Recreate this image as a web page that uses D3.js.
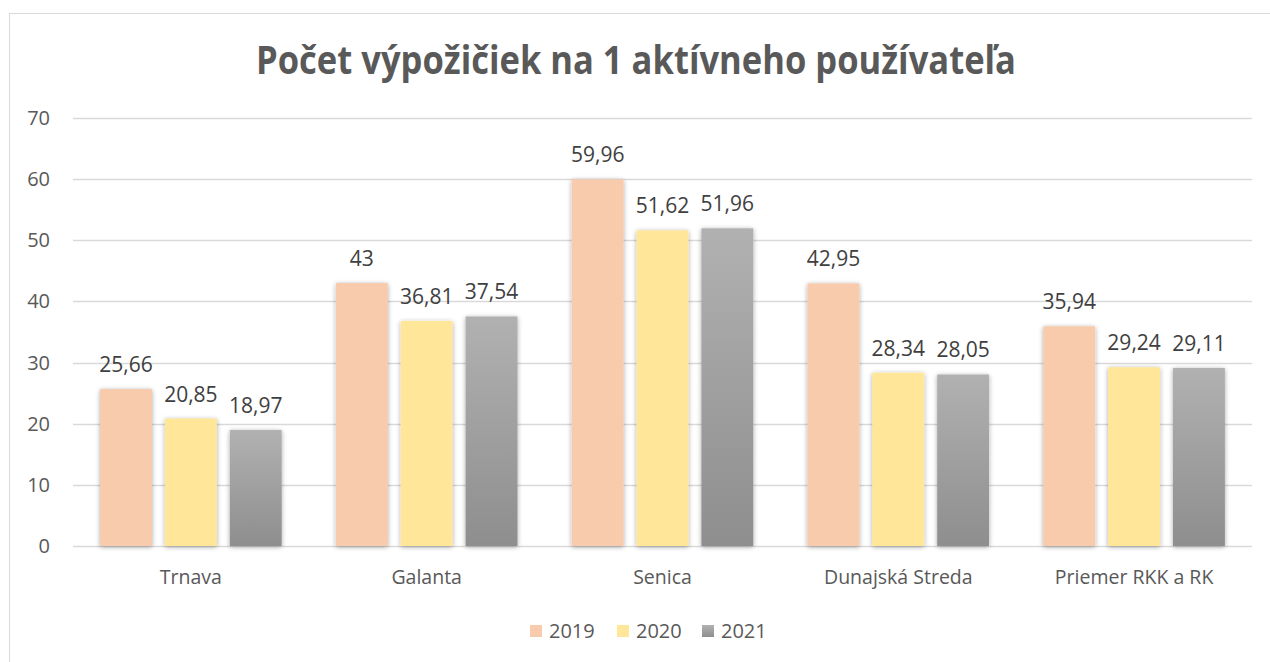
<!DOCTYPE html>
<html>
<head>
<meta charset="utf-8">
<script src="https://cdn.jsdelivr.net/npm/d3@7/dist/d3.min.js"></script>
<style>
html,body{margin:0;padding:0;background:#fff;}
svg{display:block;font-family:"Open Sans",sans-serif;}
</style>
</head>
<body>
<script>
const categories = ["Trnava", "Galanta", "Senica", "Dunajská Streda", "Priemer RKK a RK"];
const series = ["2019", "2020", "2021"];
const values2019 = [25.66, 43, 59.96, 42.95, 35.94];
const values2020 = [20.85, 36.81, 51.62, 28.34, 29.24];
const values2021 = [18.97, 37.54, 51.96, 28.05, 29.11];
const yTicks = [0, 10, 20, 30, 40, 50, 60, 70];
const title = "Počet výpožičiek na 1 aktívneho používateľa";

const allValues = [values2019, values2020, values2021];
const W = 1270, H = 662;
const plot = {left: 73, right: 1252, top: 118, bottom: 546};

const svg = d3.select("body").append("svg").attr("width", W).attr("height", H);
const defs = svg.append("defs");

const grayGrad = defs.append("linearGradient").attr("id", "gGray").attr("x1", 0).attr("y1", 0).attr("x2", 0).attr("y2", 1);
grayGrad.append("stop").attr("offset", "0%").attr("stop-color", "#b1b1b1");
grayGrad.append("stop").attr("offset", "100%").attr("stop-color", "#8e8e8e");

const f = defs.append("filter").attr("id", "shadow").attr("x", "-20%").attr("y", "-10%").attr("width", "140%").attr("height", "120%");
f.append("feGaussianBlur").attr("in", "SourceAlpha").attr("stdDeviation", 2.5).attr("result", "b");
f.append("feOffset").attr("in", "b").attr("dx", 0).attr("dy", 1).attr("result", "o");
f.append("feComponentTransfer").attr("in", "o").attr("result", "o2")
  .append("feFuncA").attr("type", "linear").attr("slope", 0.35);
const m = f.append("feMerge");
m.append("feMergeNode").attr("in", "o2");
m.append("feMergeNode").attr("in", "SourceGraphic");

const fills = ["#f8cbad", "#ffe699", "url(#gGray)"];

// outer border
svg.append("rect").attr("x", 9.5).attr("y", 13.5).attr("width", W + 20).attr("height", H + 20)
  .attr("fill", "none").attr("stroke", "#d9d9d9").attr("stroke-width", 1);

const y = d3.scaleLinear().domain([0, 70]).range([plot.bottom, plot.top]);
const x0 = d3.scaleBand().domain(categories).range([plot.left, plot.right]).paddingInner(0.23).paddingOuter(0.115);
const x1 = d3.scaleBand().domain(series).range([0, x0.bandwidth()]).paddingInner(0.2).paddingOuter(0);

// gridlines
svg.append("g").selectAll("line").data(yTicks).join("line")
  .attr("x1", plot.left).attr("x2", plot.right)
  .attr("y1", d => Math.round(y(d)) + 0.5).attr("y2", d => Math.round(y(d)) + 0.5)
  .attr("stroke", "#d9d9d9").attr("stroke-width", 1.3);

// y labels
svg.append("g").selectAll("text").data(yTicks).join("text")
  .attr("x", 50).attr("y", d => y(d) + 7)
  .attr("text-anchor", "end").attr("font-size", 20).attr("fill", "#595959")
  .text(d => d);

// bars
const groups = svg.append("g").selectAll("g").data(categories).join("g")
  .attr("transform", c => `translate(${x0(c)},0)`);
groups.selectAll("rect").data((c, i) => series.map((s, j) => ({s, j, v: allValues[j][i]}))).join("rect")
  .attr("x", d => x1(d.s)).attr("width", x1.bandwidth())
  .attr("y", d => y(d.v)).attr("height", d => y(0) - y(d.v))
  .attr("fill", d => fills[d.j]).attr("filter", "url(#shadow)");
groups.selectAll("text").data((c, i) => series.map((s, j) => ({s, j, v: allValues[j][i]}))).join("text")
  .attr("x", d => x1(d.s) + x1.bandwidth() / 2).attr("y", d => y(d.v) - 17)
  .attr("text-anchor", "middle").attr("font-size", 21).attr("fill", "#404040")
  .text(d => String(d.v).replace(".", ","));

// category labels
svg.append("g").selectAll("text").data(categories).join("text")
  .attr("x", c => x0(c) + x0.bandwidth() / 2).attr("y", 584)
  .attr("text-anchor", "middle").attr("font-size", 19.5).attr("fill", "#595959")
  .text(c => c);

// title
svg.append("text").attr("x", 636).attr("y", 74).attr("text-anchor", "middle")
  .attr("font-size", 40).attr("font-weight", "bold").attr("fill", "#595959")
  .attr("textLength", 760).attr("lengthAdjust", "spacingAndGlyphs").text(title);

// legend
const legendX = [530, 617, 702];
const lg = svg.append("g").selectAll("g").data(series).join("g")
  .attr("transform", (s, i) => `translate(${legendX[i]},625)`);
lg.append("rect").attr("width", 12).attr("height", 12).attr("fill", (s, i) => fills[i]);
lg.append("text").attr("x", 19).attr("y", 13).attr("font-size", 20).attr("fill", "#595959").text(s => s);
</script>
</body>
</html>
